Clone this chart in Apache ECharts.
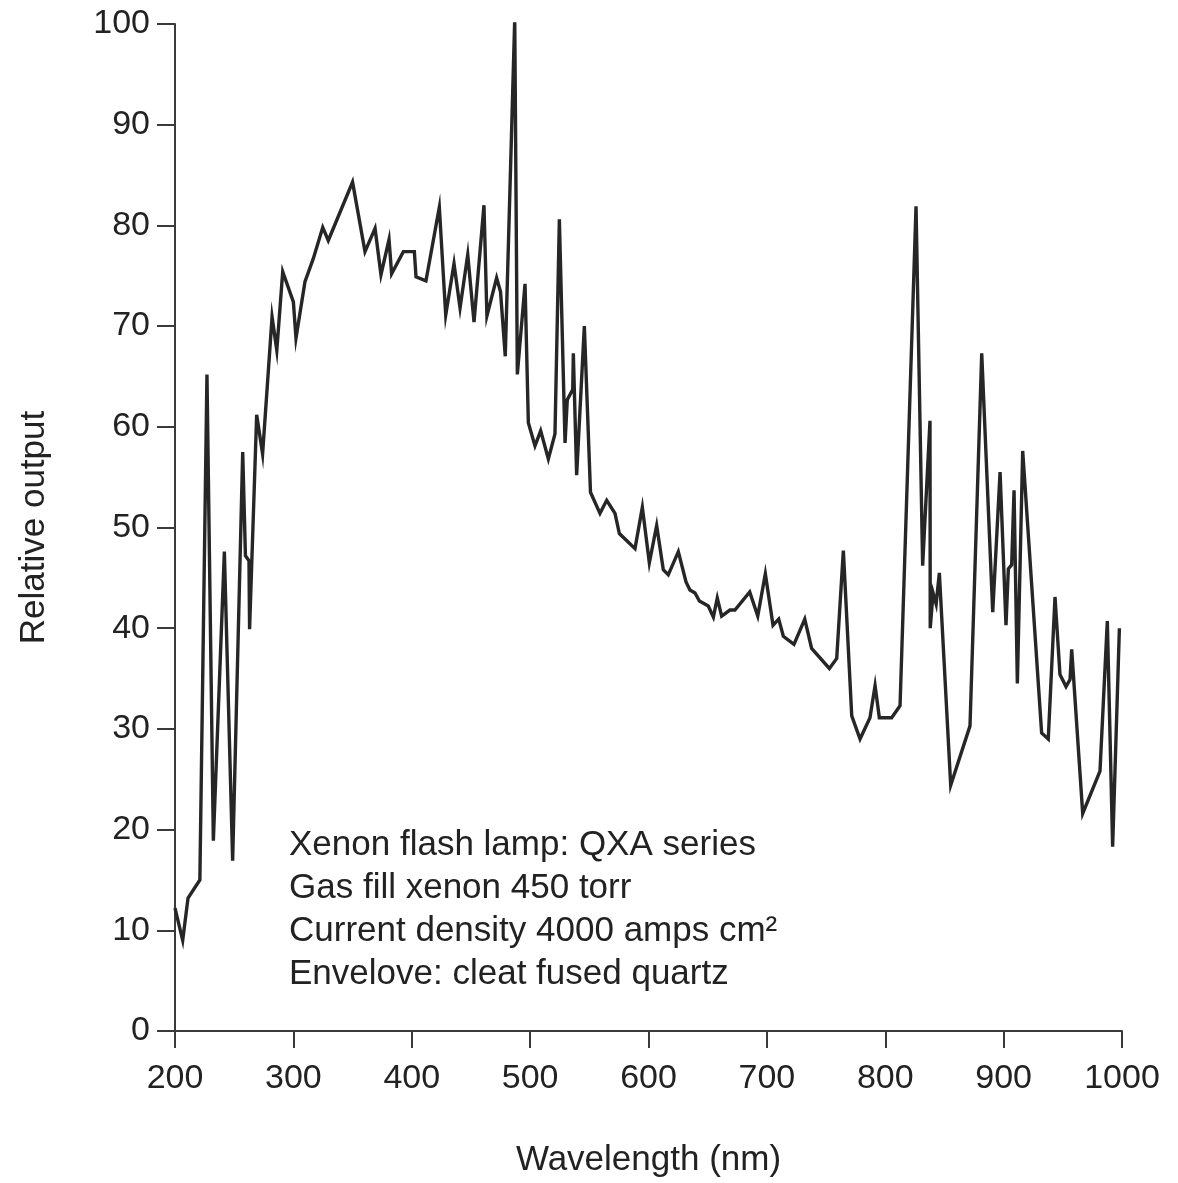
<!DOCTYPE html>
<html>
<head>
<meta charset="utf-8">
<script src="https://cdn.jsdelivr.net/npm/echarts@6/dist/echarts.min.js"></script>
<style>
html,body{margin:0;padding:0;background:#fff;}
#chart{width:1178px;height:1183px;}
</style>
</head>
<body>
<div id="chart"></div>
<script>
// Wavelength (nm) and relative output
const wavelength = [200,206.5,211,221,227,232.4,241.7,248.7,257.2,259.5,262.5,263,269,274,282,286,291,300,302.2,309.8,316.8,324.8,329.5,350,360.5,369,374,380.8,383,392.9,402.2,403.6,412,423.3,428.7,435.7,440.8,447.3,452.6,461,463.5,471.7,475,479,487,489.2,495.7,498.5,504.1,508.9,515.4,521,524.7,529.5,531.4,536,536.5,539.3,545.8,551,559,564.7,571.7,575.4,588.6,594.8,600.7,606.9,612.5,616.7,625.2,631.7,635,639.3,643,650.5,654.8,658.1,661.8,668.8,673,685.5,692.3,698.7,705.2,710,713.9,722.9,732,737.8,752.8,759,764.6,771.7,778.7,787.1,791.4,795,805.4,812.5,826,831.6,837.8,838,840.4,843,845.7,855.3,871.6,881.5,890.8,897,902,904,906.8,908.8,911.6,916.1,932.1,937.7,943.4,947.6,952.7,956.1,957.5,966.8,981.4,987.6,992.1,997.8];
const relOutput = [12.2,9,13.2,15,65.2,18.9,47.6,16.9,57.5,47.2,46.7,39.9,61.2,57.3,70.9,67.6,75.4,72.4,68.8,74.4,76.7,79.8,78.5,84.3,77.4,79.7,75.1,78.6,75.2,77.4,77.4,74.9,74.5,81.8,71.1,76.2,71.8,77.1,70.4,82.0,71.0,74.8,73.4,67.0,100.5,65.2,74.2,60.4,58.1,59.6,56.8,59.3,80.6,58.4,62.7,63.7,67.3,55.2,70.0,53.5,51.4,52.7,51.4,49.4,47.9,52.0,46.5,50.2,45.8,45.3,47.6,44.6,43.8,43.5,42.7,42.2,41.1,43.0,41.2,41.8,41.8,43.6,41.2,45.4,40.3,40.9,39.2,38.4,40.9,38.0,36.0,37.0,47.7,31.3,29.0,31.1,34.3,31.1,31.1,32.3,81.9,46.2,60.6,40.0,43.5,42.4,45.5,24.4,30.3,67.3,41.6,55.5,40.3,45.9,46.3,53.7,34.5,57.6,29.6,29.0,43.1,35.4,34.2,34.9,37.9,21.6,25.8,40.7,18.3,40.0];
const annotationLines = [
  "Xenon flash lamp: QXA series",
  "Gas fill xenon 450 torr",
  "Current density 4000 amps cm\u00B2",
  "Envelove: cleat fused quartz"
];
const xTitle = "Wavelength (nm)";
const yTitle = "Relative output";

const seriesData = wavelength.map((w, i) => [w, relOutput[i]]);
const FONT = "'Liberation Sans', Arial, Helvetica, sans-serif";
const TXT = '#222';
const AX = '#3a3a3a';

const chart = echarts.init(document.getElementById('chart'), null, {renderer: 'canvas'});
chart.setOption({
  backgroundColor: '#ffffff',
  animation: false,
  grid: {left: 175, right: 56, top: 24, bottom: 146, containLabel: false},
  xAxis: {
    type: 'value', min: 200, max: 1000, interval: 100,
    name: xTitle, nameLocation: 'middle', nameGap: 112,
    nameTextStyle: {fontFamily: FONT, fontSize: 35, color: TXT},
    axisLine: {show: true, lineStyle: {color: AX, width: 2}},
    axisTick: {show: true, inside: false, length: 17, lineStyle: {color: AX, width: 2}},
    axisLabel: {fontFamily: FONT, fontSize: 34, color: TXT, margin: 31, formatter: v => String(v)},
    splitLine: {show: false}
  },
  yAxis: {
    type: 'value', min: 0, max: 100, interval: 10,
    name: yTitle, nameLocation: 'middle', nameGap: 123, nameRotate: 90,
    nameTextStyle: {fontFamily: FONT, fontSize: 35, color: TXT},
    axisLine: {show: true, lineStyle: {color: AX, width: 2}},
    axisTick: {show: true, inside: false, length: 18, lineStyle: {color: AX, width: 2}},
    axisLabel: {fontFamily: FONT, fontSize: 34, color: TXT, margin: 25, formatter: v => String(v)},
    splitLine: {show: false}
  },
  series: [{
    type: 'line',
    data: seriesData,
    showSymbol: false,
    symbol: 'none',
    lineStyle: {color: '#262626', width: 3.4, join: 'miter'},
    z: 3
  }],
  graphic: [{
    type: 'text',
    left: 289,
    top: 824,
    style: {
      text: annotationLines.join('\n'),
      font: "35px " + FONT,
      fill: TXT,
      lineHeight: 43
    }
  }]
});
</script>
</body>
</html>
